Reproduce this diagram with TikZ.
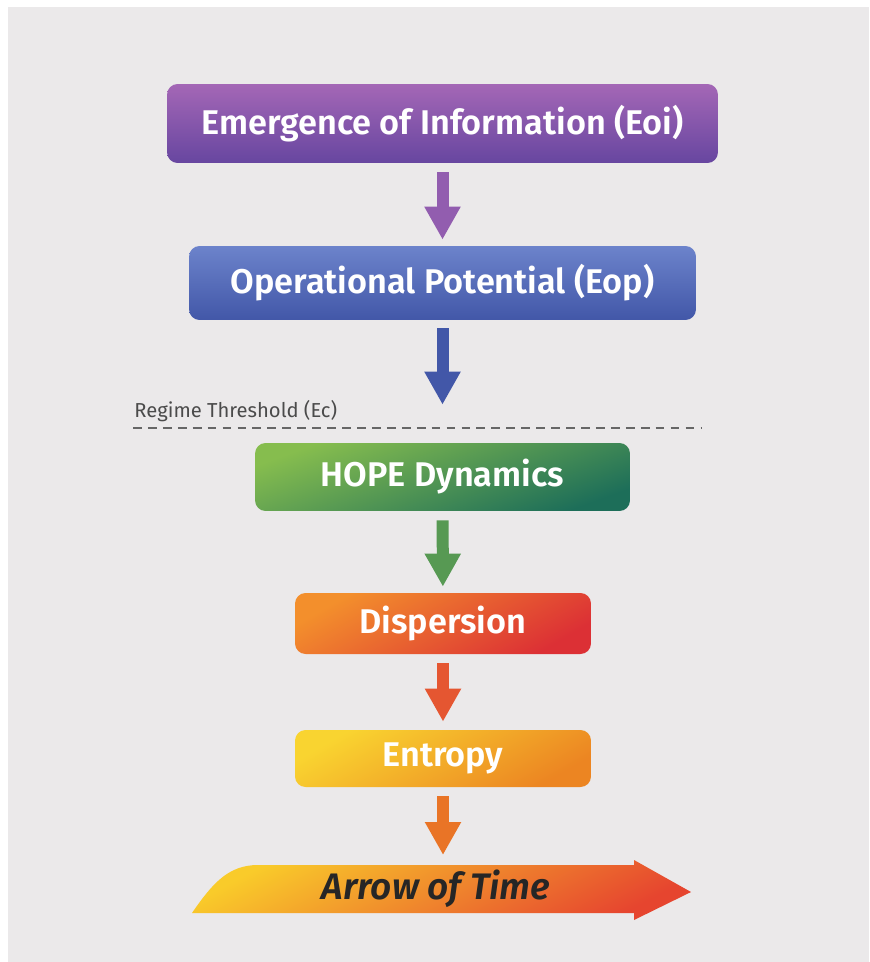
\documentclass[tikz,border=0pt]{standalone}
\usepackage{fontspec}
\setmainfont{Fira Sans}[BoldFont={Fira Sans SemiBold}, BoldItalicFont={Fira Sans SemiBold Italic}]
\usepackage{tikz}
\usetikzlibrary{arrows.meta, positioning, calc}

\definecolor{panelgray}{HTML}{EBE9EA}
\definecolor{eoitop}{HTML}{A467B6}
\definecolor{eoibot}{HTML}{6746A0}
\definecolor{eoptop}{HTML}{6C83CB}
\definecolor{eopbot}{HTML}{4257A8}
\definecolor{hopetop}{HTML}{86BD4E}
\definecolor{hopebot}{HTML}{1D6E59}
\definecolor{disptop}{HTML}{F38F2C}
\definecolor{dispbot}{HTML}{DC3035}
\definecolor{enttop}{HTML}{F9D430}
\definecolor{entbot}{HTML}{EC8522}
\definecolor{timetop}{HTML}{F9CB2A}
\definecolor{timebot}{HTML}{E6452F}
\definecolor{threshgray}{HTML}{4B4B4B}

\begin{document}
\begin{tikzpicture}[x=0.02cm, y=-0.02cm,
    stage/.style={rectangle, rounded corners=6pt, inner sep=0pt, text=white,
        font=\fontsize{19.5}{22}\selectfont\bfseries, text centered},
    flow/.style={line width=0.24cm, -{Triangle[width=0.68cm, length=0.66cm]}}]
    % Background
    \useasboundingbox (0,0) rectangle (869,962);
    \fill[white] (0,0) rectangle (869,962);
    \fill[panelgray] (8,7) rectangle (869,962);

    % Blocks
    \node[stage, top color=eoitop, bottom color=eoibot, minimum width=11.02cm, minimum height=1.58cm]
        (eoi) at (442.5,123.5) {Emergence of Information (Eoi)};
    \node[stage, top color=eoptop, bottom color=eopbot, minimum width=10.14cm, minimum height=1.48cm]
        (eop) at (442.5,283) {Operational Potential (Eop)};
    \node[stage, top color=hopetop, bottom color=hopebot, shading angle=20, minimum width=7.5cm, minimum height=1.36cm]
        (hope) at (442.5,477) {HOPE Dynamics};
    \node[stage, top color=disptop, bottom color=dispbot, shading angle=30, minimum width=5.92cm, minimum height=1.22cm]
        (disp) at (443,623.5) {Dispersion};
    \node[stage, top color=enttop, bottom color=entbot, shading angle=30, minimum width=5.92cm, minimum height=1.14cm]
        (entropy) at (443,758.5) {Entropy};

    % Regime threshold
    \coordinate (thrleft) at (133,428);
    \coordinate (thrright) at (702,428);
    \draw[threshgray!85, line width=1.2pt, dash pattern=on 5pt off 3.5pt] (thrleft) -- (thrright);
    \node[anchor=south west, inner sep=0pt, text=threshgray, font=\fontsize{11.5}{13}\selectfont]
        (thrlabel) at (134,422) {Regime Threshold (Ec)};

    % Arrow of time
    \shade[top color=timetop, bottom color=timebot, shading angle=28]
        (192,913) .. controls (212,884) and (228,865) .. (258,865) -- (634,865) -- (634,860)
        -- (691,892) -- (634,920) -- (634,913) -- cycle;
    \node[font=\fontsize{21}{24}\selectfont\bfseries\itshape, text=black!85, inner sep=0pt]
        (time) at (436,889) {Arrow of Time};
    \coordinate (timetopedge) at (443,865);

    % Lines
    \draw[flow, color=eoitop!70!eoibot, shorten <=0.18cm, shorten >=0.12cm] (eoi) -- (eop);
    \draw[flow, color=eopbot, shorten <=0.16cm, shorten >=0.76cm] (eop) -- (hope);
    \draw[flow, color=hopetop!55!hopebot, shorten <=0.18cm, shorten >=0.12cm] (hope) -- (disp);
    \draw[flow, color=disptop!40!dispbot, shorten <=0.18cm, shorten >=0.16cm] (disp) -- (entropy);
    \draw[flow, color=entbot!80!dispbot, shorten <=0.18cm, shorten >=0.2cm] (entropy) -- (timetopedge);
\end{tikzpicture}
\end{document}
